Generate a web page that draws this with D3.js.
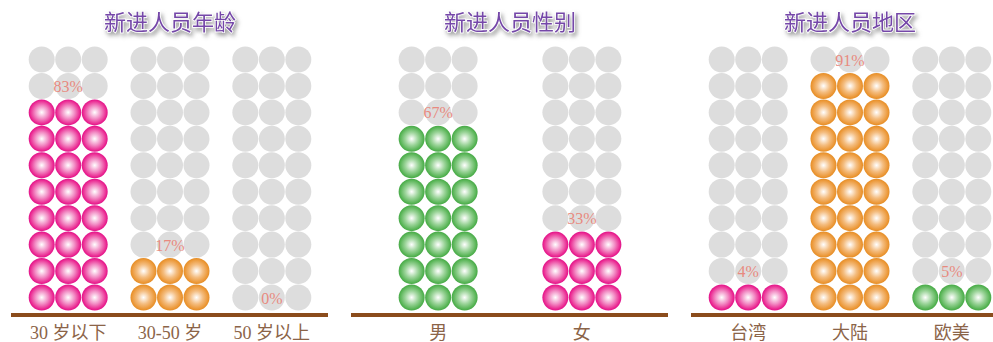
<!DOCTYPE html>
<html>
<head>
<meta charset="utf-8">
<script src="https://cdn.jsdelivr.net/npm/d3@7"></script>
<style>
  body { margin: 0; background: #fff; }
  svg { display: block; }
</style>
</head>
<body>
<svg id="chart" width="993" height="342"></svg>
<script>
// chart data - one array per panel
let titles = ['新进人员年龄', '新进人员性别', '新进人员地区'];
let ageCats = ['30 岁以下', '30-50 岁', '50 岁以上'];
let ageValues = [83, 17, 0];
let ageColors = ['pink', 'orange', 'green'];
let genderCats = ['男', '女'];
let genderValues = [67, 33];
let genderColors = ['green', 'pink'];
let regionCats = ['台湾', '大陆', '欧美'];
let regionValues = [4, 91, 5];
let regionColors = ['pink', 'orange', 'green'];

let panels = [
    {title: titles[0], cats: ageCats, values: ageValues, colors: ageColors},
    {title: titles[1], cats: genderCats, values: genderValues, colors: genderColors},
    {title: titles[2], cats: regionCats, values: regionValues, colors: regionColors}
];

let palette = {
    pink:   {mid: '#f28cc4', edge: '#ea2590', rim: '#e0128a'},
    orange: {mid: '#f4bd80', edge: '#eb9634', rim: '#e48d26'},
    green:  {mid: '#9bd499', edge: '#55b353', rim: '#46a846'}
};

let svg = d3.select('#chart');
let defs = svg.append('defs');

// radial gradients for the balls
Object.keys(palette).forEach(function(k){
    let g = defs.append('radialGradient')
        .attr('id', 'grad_' + k)
        .attr('cx', '50%').attr('cy', '50%').attr('r', '50%')
        .attr('fx', '50%').attr('fy', '50%');
    g.append('stop').attr('offset', '0%').attr('stop-color', '#ffffff');
    g.append('stop').attr('offset', '50%').attr('stop-color', palette[k].mid);
    g.append('stop').attr('offset', '90%').attr('stop-color', palette[k].edge);
    g.append('stop').attr('offset', '100%').attr('stop-color', palette[k].rim);
});

// title shadow
let f = defs.append('filter').attr('id', 'titleShadow')
    .attr('x', '-20%').attr('y', '-40%').attr('width', '140%').attr('height', '180%');
f.append('feDropShadow').attr('dx', 2).attr('dy', 3).attr('stdDeviation', 2)
    .attr('flood-color', '#777').attr('flood-opacity', 0.75);

let panelX = d3.scaleBand().domain([0, 1, 2]).range([0, 1020]);
let rowIdx = d3.range(10);
let colIdx = [0, 1, 2];
let yScale = d3.scaleLinear().domain([0, 9]).range([297.5, 59.5]);
let colScale = d3.scalePoint().domain(colIdx).range([-26.5, 26.5]);
let r = 13;

function filledRows(pct){
    if(pct <= 0) return 0;
    return Math.max(1, Math.round(pct / 10));
}

panels.forEach(function(p, pi){
    let g = svg.append('g')
        .attr('transform', 'translate(' + panelX(pi) + ',0)');

    // group positions
    let xScale = d3.scalePoint()
        .domain(p.cats)
        .range([-4.5, 344.5])
        .padding(0.714);

    // title
    g.append('text')
        .attr('x', 170)
        .attr('y', 30)
        .attr('text-anchor', 'middle')
        .attr('filter', 'url(#titleShadow)')
        .style('font-family', '"Noto Sans CJK SC", sans-serif')
        .style('font-size', '22px')
        .style('font-weight', '400')
        .style('fill', '#7447a8')
        .style('stroke', '#ffffff')
        .style('stroke-width', '1.5px')
        .style('paint-order', 'stroke')
        .text(p.title);

    p.cats.forEach(function(c, ci){
        let n = filledRows(p.values[ci]);
        let cx = xScale(c);
        let cells = [];
        rowIdx.forEach(function(ri){
            colIdx.forEach(function(k){
                cells.push({row: ri, col: k, on: ri < n});
            });
        });

        g.append('g').selectAll('circle')
            .data(cells)
            .enter()
            .append('circle')
            .attr('cx', function(d){ return cx + colScale(d.col); })
            .attr('cy', function(d){ return yScale(d.row); })
            .attr('r', r)
            .attr('fill', function(d){ return d.on ? 'url(#grad_' + p.colors[ci] + ')' : '#dddddd'; });

        // percent label sits one row above the filled balls
        let labelRow = Math.min(n, 9);
        g.append('text')
            .attr('x', cx)
            .attr('y', yScale(labelRow) + 6)
            .attr('text-anchor', 'middle')
            .style('font-family', '"Liberation Serif", serif')
            .style('font-size', '16px')
            .style('fill', '#e88a80')
            .text(p.values[ci] + '%');

        // category label
        g.append('text')
            .attr('x', cx)
            .attr('y', 339)
            .attr('text-anchor', 'middle')
            .style('font-family', '"Liberation Serif", "Noto Sans CJK SC", serif')
            .style('font-size', '18px')
            .style('fill', '#8b6448')
            .text(c);
    });

    // baseline
    g.append('line')
        .attr('x1', 11).attr('x2', 328)
        .attr('y1', 315).attr('y2', 315)
        .attr('stroke', '#8b4c1c')
        .attr('stroke-width', 4);
});
</script>
</body>
</html>
